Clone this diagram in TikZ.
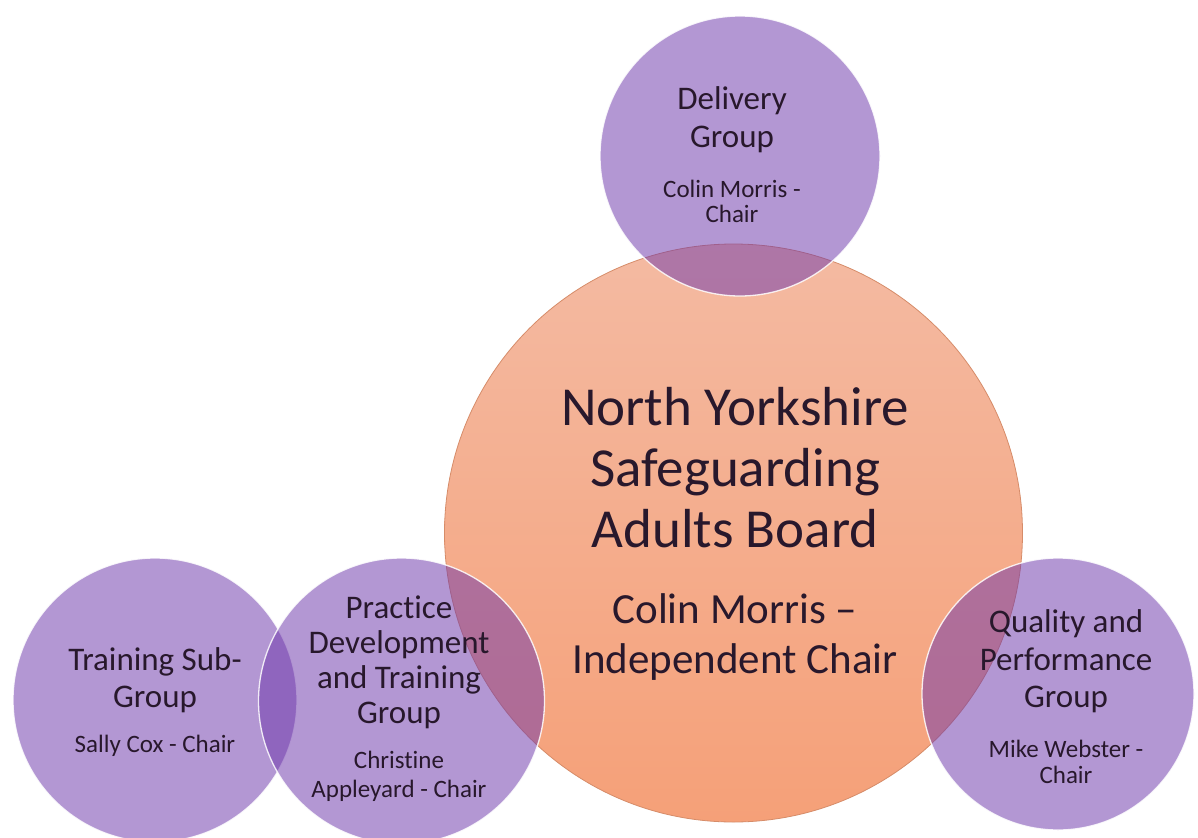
\documentclass[tikz,border=0pt]{standalone}
\usepackage{fontspec}
\setmainfont{Carlito}[RawFeature={-liga;-calt;-clig}]
\definecolor{purp}{RGB}{111,57,172}
\definecolor{txt}{RGB}{40,24,44}
\definecolor{orTop}{RGB}{244,186,162}
\definecolor{orBot}{RGB}{245,160,120}
\definecolor{orEdge}{RGB}{214,140,105}
\tikzset{
  boardcircle/.style={circle, inner sep=0pt, minimum size=#1, top color=orTop, bottom color=orBot, draw=orEdge, line width=0.8pt},
  groupcircle/.style={circle, inner sep=0pt, minimum size=#1, fill=purp, fill opacity=0.52, draw=white, draw opacity=0.85, line width=1.3pt},
  lbig/.style={anchor=base, inner sep=0pt, text=txt, font=\fontsize{33}{38}\selectfont},
  lsmall/.style={anchor=base, inner sep=0pt, text=txt, font=\fontsize{25}{27}\selectfont},
  lhuge/.style={anchor=base, inner sep=0pt, text=txt, font=\fontsize{55}{60}\selectfont},
  lsub/.style={anchor=base, inner sep=0pt, text=txt, font=\fontsize{43}{48}\selectfont},
}
\begin{document}
\begin{tikzpicture}[x=1pt,y=-1pt]
\useasboundingbox[fill=white] (0,0) rectangle (1198,837);
% circles
\node[boardcircle=578pt] (board) at (733.5,533) {};
\node[groupcircle=280pt] (delivery) at (740,156) {};
\node[groupcircle=284pt] (training) at (155,700) {};
\node[groupcircle=286pt] (practice) at (401.5,701) {};
\node[groupcircle=272pt] (quality) at (1058,694) {};
% board text
\node[lhuge] (b1) at (735,425) {North Yorkshire};
\node[lhuge] (b2) at (735,486) {Safeguarding};
\node[lhuge] (b3) at (735,547) {Adults Board};
\node[lsub] (b4) at (735,623) {Colin Morris –};
\node[lsub] (b5) at (735,673) {Independent Chair};
% delivery text
\node[lbig] (d1) at (732,110) {Delivery};
\node[lbig] (d2) at (732,148) {Group};
\node[lsmall] (d3) at (732,197) {Colin Morris -};
\node[lsmall] (d4) at (732,222) {Chair};
% training text
\node[lbig] (t1) at (155,670) {Training Sub-};
\node[lbig] (t2) at (155,707) {Group};
\node[lsmall] (t3) at (155,752) {Sally Cox - Chair};
% practice text
\node[lbig] (p1) at (399,618) {Practice};
\node[lbig] (p2) at (399,653) {Development};
\node[lbig] (p3) at (399,688) {and Training};
\node[lbig] (p4) at (399,723) {Group};
\node[lsmall] (p5) at (399,768) {Christine};
\node[lsmall] (p6) at (399,797) {Appleyard - Chair};
% quality text
\node[lbig] (q1) at (1066,632) {Quality and};
\node[lbig] (q2) at (1066,670) {Performance};
\node[lbig] (q3) at (1066,707) {Group};
\node[lsmall] (q4) at (1066,757) {Mike Webster -};
\node[lsmall] (q5) at (1066,783) {Chair};
\end{tikzpicture}
\end{document}
